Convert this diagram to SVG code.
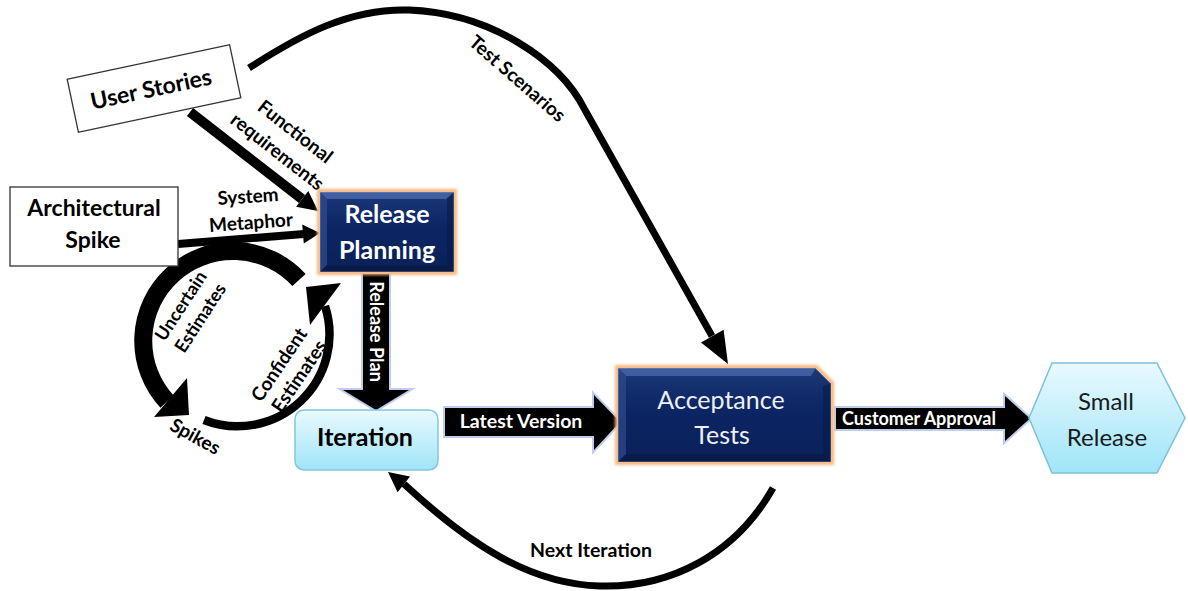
<svg xmlns="http://www.w3.org/2000/svg" width="1188" height="591" viewBox="0 0 1188 591">
<defs>
<style>
.t{font-family:Lato,"Liberation Sans",sans-serif;font-weight:700;fill:#000;}
.r{font-family:Lato,"Liberation Sans",sans-serif;font-weight:400;}
.w{fill:#fff;}
.lb{font-size:19px;}
.ln{fill:none;stroke:#000;}
.box{fill:#fff;stroke:#333;stroke-width:1.3;}
.blk{fill:#000;stroke:#bdcdeb;stroke-width:4;paint-order:stroke;stroke-linejoin:miter;}
</style>
<linearGradient id="navy" x1="0" y1="0" x2="0" y2="1">
<stop offset="0" stop-color="#1b3878"/>
<stop offset="0.45" stop-color="#0c2563"/>
<stop offset="1" stop-color="#0a2159"/>
</linearGradient>
<linearGradient id="cyan" x1="0" y1="0" x2="0" y2="1">
<stop offset="0" stop-color="#e9f9fe"/>
<stop offset="1" stop-color="#9fe5f8"/>
</linearGradient>
<filter id="og" x="-10%" y="-10%" width="120%" height="120%"><feGaussianBlur stdDeviation="1.8"/></filter>
</defs>
<rect width="1188" height="591" fill="#fff"/>

<g id="connectors">
<!-- Test Scenarios -->
<path class="ln" stroke-width="7" d="M249,68 C300,35 350,8 409,10 C490,13 560,60 585,110 L712,336"/>
<polygon points="728,364 723.6,329.8 701,342.6"/>
<!-- Functional requirements -->
<path class="ln" stroke-width="10" d="M190,112 L302,199"/>
<polygon points="318,211 308.3,190.9 296.1,206.7"/>
<!-- System Metaphor -->
<path class="ln" stroke-width="8" d="M178,244 L304,234"/>
<polygon points="320,233 303.8,243.4 302.2,224.4"/>
<!-- Uncertain Estimates -->
<path class="ln" stroke-width="18" d="M299,280 A88 88 0 1 0 167,401.6"/>
<polygon points="154,417 189,415 187,378"/>
<!-- Confident Estimates -->
<path class="ln" stroke-width="8.5" d="M204,420 A92 92 0 0 0 325,306"/>
<polygon points="306,287 341,283 310,325"/>
<!-- Release Plan -->
<polygon class="blk" points="363,274 389,274 389,390 409,390 376,410 343,390 363,390"/>
<!-- Latest Version -->
<polygon class="blk" points="445,408 594,408 594,395 620,422 594,450 594,436 445,436"/>
<!-- Customer Approval -->
<polygon class="blk" points="836,408 1005,408 1005,396 1030,418.5 1005,441 1005,429 836,429"/>
<!-- Next Iteration -->
<path class="ln" stroke-width="7" d="M773,488 C735,555 670,588 600,586 C530,584 470,545 404,484"/>
<polygon points="388,472 410,476.5 397.6,492.3"/>

<text class="t lb" text-anchor="middle" transform="translate(517,79) rotate(41)" y="6">Test Scenarios</text>
<text class="t lb" text-anchor="middle" transform="translate(295,132) rotate(38)" y="6">Functional</text>
<text class="t lb" text-anchor="middle" transform="translate(277,152) rotate(38)" y="6">requirements</text>
<text class="t lb" text-anchor="middle" transform="translate(248,197) rotate(-4)" y="6">System</text>
<text class="t lb" text-anchor="middle" transform="translate(251,223) rotate(-4)" y="6">Metaphor</text>
<text class="t" font-size="18" text-anchor="middle" transform="translate(181,306) rotate(-57)" y="6">Uncertain</text>
<text class="t" font-size="18" text-anchor="middle" transform="translate(200.5,318) rotate(-57)" y="6">Estimates</text>
<text class="t lb" text-anchor="middle" transform="translate(279.5,365) rotate(-56)" y="6">Confident</text>
<text class="t lb" text-anchor="middle" transform="translate(299.5,376.5) rotate(-56)" y="6">Estimates</text>
<text class="t lb" text-anchor="middle" transform="translate(195,437) rotate(29)" y="6">Spikes</text>
<text class="t w" font-size="18" text-anchor="middle" transform="translate(376,331.5) rotate(90)" y="6">Release Plan</text>
<text class="t w" font-size="19.5" text-anchor="middle" x="521" y="428">Latest Version</text>
<text class="t w" font-size="18" text-anchor="middle" x="919" y="424.5">Customer Approval</text>
<text class="t" font-size="19.5" text-anchor="middle" x="591" y="557">Next Iteration</text>
</g>

<g id="user-stories" transform="rotate(-12 154 88.5)">
<rect class="box" x="71" y="61.5" width="166" height="54"/>
<text class="t" font-size="23" text-anchor="middle" x="151" y="96.5">User Stories</text>
</g>

<g id="architectural-spike">
<rect class="box" x="10" y="187" width="168" height="79"/>
<text class="t" font-size="23" text-anchor="middle" x="94" y="216">Architectural</text>
<text class="t" font-size="23" text-anchor="middle" x="93" y="248">Spike</text>
</g>

<g id="release-planning">
<rect x="317" y="189" width="140" height="86" fill="#f5b57a" filter="url(#og)"/>
<rect x="320" y="192" width="134" height="80" fill="url(#navy)" stroke="#f2c79b" stroke-width="1.2"/>
<polygon points="320,192 454,192 446,199 327,199" fill="#4f6fb3" opacity=".75"/>
<polygon points="320,192 327,199 327,265 320,272" fill="#2d4c8f" opacity=".75"/>
<polygon points="454,192 454,272 447,265 447,199" fill="#071a4c" opacity=".6"/>
<polygon points="320,272 454,272 447,265 327,265" fill="#061743" opacity=".6"/>
<text class="t w" font-size="25" text-anchor="middle" x="387" y="223">Release</text>
<text class="t w" font-size="25" text-anchor="middle" x="387" y="259">Planning</text>
</g>

<g id="iteration">
<rect x="295" y="410" width="143" height="60" rx="9" fill="url(#cyan)" stroke="#83c7de" stroke-width="1.5"/>
<text class="t" font-size="25" text-anchor="middle" x="365" y="446">Iteration</text>
</g>

<g id="acceptance-tests">
<polygon points="615,365 817,365 834,382 834,465 615,465" fill="#f5b57a" filter="url(#og)"/>
<polygon points="618,368 816,368 831,383 831,462 618,462" fill="url(#navy)" stroke="#f2c79b" stroke-width="1.2"/>
<polygon points="618,368 816,368 811,376 626,376" fill="#4f6fb3" opacity=".7"/>
<polygon points="618,368 626,376 626,454 618,462" fill="#2d4c8f" opacity=".7"/>
<polygon points="831,383 831,462 823,454 823,386" fill="#071a4c" opacity=".6"/>
<polygon points="618,462 831,462 823,454 626,454" fill="#061743" opacity=".6"/>
<text class="r" font-size="25" fill="#eef0f4" text-anchor="middle" x="721" y="409">Acceptance</text>
<text class="r" font-size="25" fill="#eef0f4" text-anchor="middle" x="722" y="444">Tests</text>
</g>

<g id="small-release">
<polygon points="1029,418 1052,363 1157,363 1185,418 1157,473 1052,473" fill="url(#cyan)" stroke="#7cc1d8" stroke-width="1.5"/>
<text class="r" font-size="24" fill="#1a1a1a" text-anchor="middle" x="1106" y="410">Small</text>
<text class="r" font-size="24" fill="#1a1a1a" text-anchor="middle" x="1107" y="446">Release</text>
</g>
</svg>
